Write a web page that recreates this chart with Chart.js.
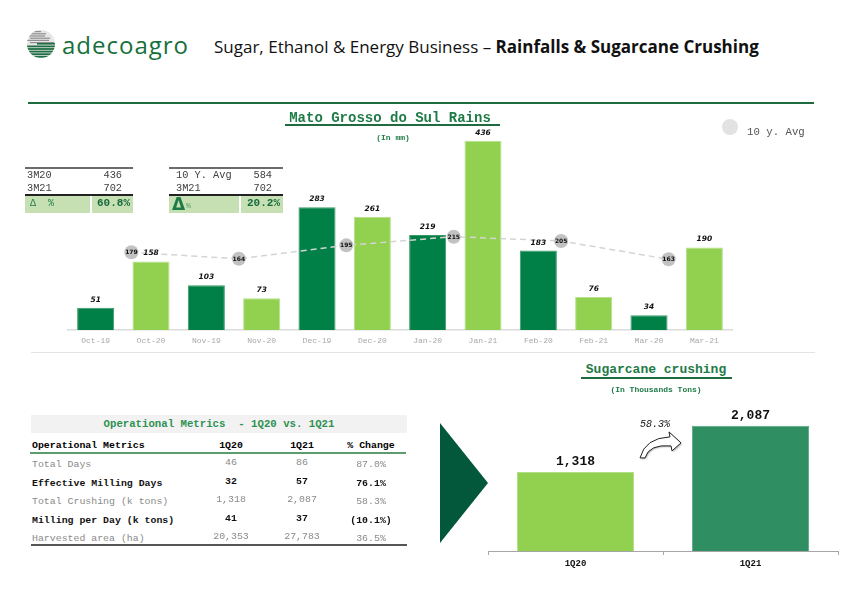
<!DOCTYPE html>
<html>
<head>
<meta charset="utf-8">
<script src="https://cdn.jsdelivr.net/npm/chart.js@4.4.1/dist/chart.umd.min.js"></script>
<style>
body { margin: 0; width: 842px; height: 595px; position: relative; background: #fff; overflow: hidden; font-family: "Liberation Mono", monospace; }
.t { position: absolute; white-space: pre; }
.hl { position: absolute; }
canvas { position: absolute; }
</style>
</head>
<body>
<svg class="hl" style="left:27px;top:30px" width="28" height="28" id="logo"></svg>
<div class="t" style="left:62px;top:30px;font-family:'Open Sans';font-size:24px;line-height:30px;letter-spacing:1px;color:#17703c">adecoagro</div>
<div class="t" style="left:214px;top:36px;font-family:'Open Sans';font-size:17px;line-height:21px;color:#111">Sugar, Ethanol &amp; Energy Business &ndash; <b>Rainfalls &amp; Sugarcane Crushing</b></div>
<div class="hl" style="left:28px;top:102px;width:786px;height:2px;background:#1f6b40"></div>
<div class="hl" style="left:31px;top:352px;width:784px;height:1px;background:#e3e3e3"></div>

<canvas id="rains" width="842" height="260" style="left:0;top:100px"></canvas>
<canvas id="crush" width="412" height="190" style="left:430px;top:390px"></canvas>

<svg class="hl" style="left:438px;top:420px" width="54" height="126">
  <polygon points="2,3 50,63 2,123" fill="#03573a"/>
</svg>

<script>
// rains chart
var rainMonths = ['Oct-19', 'Oct-20', 'Nov-19', 'Nov-20', 'Dec-19', 'Dec-20', 'Jan-20', 'Jan-21', 'Feb-20', 'Feb-21', 'Mar-20', 'Mar-21'];
var rainValues = [51, 158, 103, 73, 283, 261, 219, 436, 183, 76, 34, 190];
var avgMonths = ['Oct', 'Nov', 'Dec', 'Jan', 'Feb', 'Mar'];
var avgValues = [179, 164, 195, 215, 205, 163];

// small summary tables
var rainTableLabels = ['3M20', '3M21'];
var rainTableValues = [436, 702];
var rainTableDelta = '60.8%';
var avgTableLabels = ['10 Y. Avg', '3M21'];
var avgTableValues = [584, 702];
var avgTableDelta = '20.2%';

// crushing chart
var crushLabels = ['1Q20', '1Q21'];
var crushValues = [1318, 2087];
var crushChange = '58.3%';

// operational metrics
var metricHeader = ['Operational Metrics', '1Q20', '1Q21', '% Change'];
var metricNames = ['Total Days', 'Effective Milling Days', 'Total Crushing (k tons)', 'Milling per Day (k tons)', 'Harvested area (ha)'];
var metric1Q20 = ['46', '32', '1,318', '41', '20,353'];
var metric1Q21 = ['86', '57', '2,087', '37', '27,783'];
var metricChange = ['87.0%', '76.1%', '58.3%', '(10.1%)', '36.5%'];
var metricBold = [false, true, false, true, false];

var DARK = '#007f46', LIGHT = '#92d050', DARK2 = '#2f8f63', GREEN_TXT = '#1e7b47';

function put(text, x, y, css, align) {
    var d = document.createElement('div');
    d.className = 't';
    d.textContent = text;
    var size = css.size || 10;
    d.style.fontSize = size + 'px';
    d.style.lineHeight = Math.round(size * 1.4) + 'px';
    d.style.top = (y - size * 0.7) + 'px';
    if (css.bold) d.style.fontWeight = 'bold';
    if (css.italic) d.style.fontStyle = 'italic';
    d.style.color = css.color || '#000';
    if (css.family) d.style.fontFamily = css.family;
    if (align == 'right') {
        d.style.right = (842 - x) + 'px';
    } else if (align == 'center') {
        d.style.left = x + 'px';
        d.style.transform = 'translateX(-50%)';
    } else {
        d.style.left = x + 'px';
    }
    document.body.appendChild(d);
    return d;
}

function box(x, y, w, h, color) {
    var d = document.createElement('div');
    d.className = 'hl';
    d.style.left = x + 'px';
    d.style.top = y + 'px';
    d.style.width = w + 'px';
    d.style.height = h + 'px';
    d.style.background = color;
    document.body.appendChild(d);
}

// logo
(function() {
    var svg = document.getElementById('logo');
    var s = '<defs><clipPath id="cp"><circle cx="14" cy="14" r="14"/></clipPath></defs><g clip-path="url(#cp)">';
    s += '<rect x="0" y="0" width="28" height="28" fill="#e6e6e6"/>';
    for (var i = 0; i < 6; i++) {
        s += '<rect x="' + (i % 2 ? 3 : 0) + '" y="' + (1 + i * 2.2) + '" width="' + (14 + i * 2) + '" height="1.2" fill="#8f8f8f"/>';
    }
    s += '<rect x="10" y="13" width="18" height="1.6" fill="#1f6e43"/>';
    for (var j = 0; j < 5; j++) {
        s += '<rect x="0" y="' + (15.5 + j * 2.6) + '" width="28" height="1.8" fill="#1f6e43"/>';
    }
    s += '</g>';
    svg.innerHTML = s;
})();

// rains title
put('Mato Grosso do Sul Rains', 390, 118, {size: 14, bold: true, color: GREEN_TXT}, 'center');
box(285, 124, 215, 1.5, '#1f6b40');
put('(In mm)', 393, 138, {size: 8, bold: true, color: GREEN_TXT}, 'center');

// legend
var leg = document.createElement('div');
leg.className = 'hl';
leg.style.cssText = 'left:722px;top:119px;width:16px;height:16px;border-radius:8px;background:#e2e2e2';
document.body.appendChild(leg);
put('10 y. Avg', 747, 132, {size: 10.7, color: '#555'}, 'left');

// small tables
function smallTable(x0, x1, xdiv, labels, values, delta, bigDelta) {
    box(x0, 167, x1 - x0, 2, '#6b6b6b');
    for (var i = 0; i < labels.length; i++) {
        put(labels[i], x0 + (bigDelta ? 7 : 2), 175 + i * 13.5, {size: 10.3, color: '#404040'}, 'left');
        put(String(values[i]), x1 - 11, 175 + i * 13.5, {size: 10.3, color: '#404040'}, 'right');
    }
    box(x0, 194, x1 - x0, 1.5, '#222');
    box(x0, 196, xdiv - x0 - 1, 17, '#c6e0b4');
    box(xdiv + 1, 196, x1 - xdiv - 1, 17, '#c6e0b4');
    if (bigDelta) {
        put('Δ', x0 + 3, 203.5, {size: 17, bold: true, color: GREEN_TXT, family: 'DejaVu Sans'}, 'left');
        put('%', x0 + 17, 206, {size: 8, color: '#5aa06a'}, 'left');
    } else {
        put('Δ  %', x0 + 5, 204, {size: 10, color: GREEN_TXT}, 'left');
    }
    put(delta, x1 - 3, 204, {size: 11, bold: true, color: '#176b3c'}, 'right');
}
smallTable(25, 133, 91, rainTableLabels, rainTableValues, rainTableDelta, false);
smallTable(169, 283, 240, avgTableLabels, avgTableValues, avgTableDelta, true);

// operational metrics table
box(31, 415, 376, 18, '#f2f2f2');
put('Operational Metrics  - 1Q20 vs. 1Q21', 219, 424, {size: 10.7, bold: true, color: '#2e9152'}, 'center');
var colX = [231, 302, 371];
put(metricHeader[0], 32, 446, {size: 9.9, bold: true}, 'left');
for (var c = 1; c < 4; c++) {
    put(metricHeader[c], colX[c - 1], 446, {size: 9.9, bold: true}, 'center');
}
box(30, 452, 376, 2, '#5e9c6d');
var rowY = [465, 484, 502, 521, 539];
for (var r = 0; r < metricNames.length; r++) {
    var st = metricBold[r] ? {size: 9.9, bold: true, color: '#111'} : {size: 9.9, color: '#8a8a8a'};
    put(metricNames[r], 32, rowY[r], st, 'left');
    put(metric1Q20[r], colX[0], rowY[r] - 2, st, 'center');
    put(metric1Q21[r], colX[1], rowY[r] - 2, st, 'center');
    put(metricChange[r], colX[2], rowY[r], st, 'center');
}
box(31, 544, 376, 2, '#555');

// crushing titles
put('Sugarcane crushing', 656, 370, {size: 13, bold: true, color: GREEN_TXT}, 'center');
box(581, 377, 151, 1.5, '#1f6b40');
put('(In Thousands Tons)', 656, 390, {size: 8, bold: true, color: GREEN_TXT}, 'center');

var rainLabelsPlugin = {
    id: 'rainLabels',
    afterDatasetsDraw: function(chart) {
        var ctx = chart.ctx;
        ctx.save();
        ctx.textAlign = 'center';
        ctx.textBaseline = 'middle';
        chart.data.datasets.forEach(function(ds, di) {
            var meta = chart.getDatasetMeta(di);
            meta.data.forEach(function(el, i) {
                if (ds.type == 'line') {
                    ctx.font = 'bold 6px "DejaVu Sans"';
                    ctx.fillStyle = '#111';
                    ctx.fillText(String(avgValues[i]), el.x, el.y + 0.5);
                } else {
                    ctx.font = 'italic bold 7.5px "DejaVu Sans"';
                    ctx.fillStyle = '#111';
                    ctx.fillText(String(rainValues[i]), el.x, el.y - 8);
                }
            });
        });
        ctx.restore();
    }
};

new Chart(document.getElementById('rains'), {
    type: 'bar',
    data: {
        labels: rainMonths,
        datasets: [{
            type: 'line',
            label: '10 y. Avg',
            data: avgValues.map(function(v, i) { return {x: i, y: v}; }),
            xAxisID: 'x2',
            borderColor: '#d4d4d4',
            borderDash: [6, 4],
            borderWidth: 1.5,
            pointRadius: 7,
            pointBackgroundColor: '#c2c2c2',
            pointBorderWidth: 0,
            tension: 0,
            order: 0
        }, {
            label: 'Rains',
            data: rainValues,
            grouped: false,
            backgroundColor: rainValues.map(function(v, i) { return i % 2 ? LIGHT : DARK; }),
            borderColor: rainValues.map(function(v, i) { return i % 2 ? '#b5e08c' : '#3c9a68'; }),
            borderWidth: 1,
            barPercentage: 0.67,
            categoryPercentage: 1,
            order: 1
        }]
    },
    options: {
        responsive: false,
        animation: false,
        layout: {padding: {left: 68, right: 110, top: 13, bottom: 10}},
        plugins: {legend: {display: false}, tooltip: {enabled: false}},
        scales: {
            x: {
                grid: {display: false, drawTicks: false},
                border: {color: '#dcdcdc', width: 1.5},
                ticks: {color: '#a8a8a8', font: {family: 'Liberation Mono', size: 8}, padding: 6, maxRotation: 0, autoSkip: false},
                afterFit: function(s) { s.height = 20; }
            },
            x2: {type: 'linear', display: false, offset: false, min: -0.59, max: 5.59},
            y: {display: false, min: 0, max: 500}
        }
    },
    plugins: [rainLabelsPlugin]
});

var crushPlugin = {
    id: 'crushLabels',
    afterDatasetsDraw: function(chart) {
        var ctx = chart.ctx;
        var meta = chart.getDatasetMeta(0);
        ctx.save();
        ctx.textAlign = 'center';
        ctx.textBaseline = 'middle';
        ctx.font = 'bold 13px "Liberation Mono"';
        ctx.fillStyle = '#111';
        meta.data.forEach(function(el, i) {
            ctx.fillText(crushValues[i].toLocaleString('en-US'), el.x, el.y - 10);
        });
        // curved growth arrow between the bars
        var xs = chart.scales.x;
        var mid = (xs.getPixelForValue(0) + xs.getPixelForValue(1)) / 2;
        var top0 = meta.data[0].y, top1 = meta.data[1].y;
        var ox = mid - 20, oy = top0 - 14;
        ctx.translate(ox, oy);
        ctx.beginPath();
        ctx.moveTo(-3, 0);
        ctx.quadraticCurveTo(2, -20, 27, -21);
        ctx.lineTo(26, -26);
        ctx.lineTo(38, -15);
        ctx.lineTo(29, -7);
        ctx.lineTo(28, -12);
        ctx.quadraticCurveTo(6, -14, 2, 0);
        ctx.closePath();
        ctx.shadowColor = 'rgba(0,0,0,0.35)';
        ctx.shadowBlur = 2;
        ctx.shadowOffsetX = 1;
        ctx.shadowOffsetY = 1;
        ctx.fillStyle = '#fff';
        ctx.fill();
        ctx.shadowColor = 'transparent';
        ctx.strokeStyle = '#222';
        ctx.lineWidth = 1;
        ctx.stroke();
        ctx.translate(-ox, -oy);
        ctx.fillStyle = '#111';
        ctx.font = 'italic 10px "Liberation Mono"';
        ctx.fillText(crushChange, mid - 8, top1 - 1);
        ctx.restore();
    }
};

new Chart(document.getElementById('crush'), {
    type: 'bar',
    data: {
        labels: crushLabels,
        datasets: [{
            data: crushValues,
            backgroundColor: [LIGHT, DARK2],
            borderColor: ['#b2df85', '#5aa784'],
            borderWidth: 1,
            barPercentage: 0.67,
            categoryPercentage: 1
        }]
    },
    options: {
        responsive: false,
        animation: false,
        layout: {padding: {left: 58, right: 4, top: 11, bottom: 9}},
        plugins: {legend: {display: false}, tooltip: {enabled: false}},
        scales: {
            x: {
                grid: {drawOnChartArea: false, drawTicks: true, tickLength: 4, color: '#a6a6a6'},
                border: {color: '#a6a6a6', width: 1},
                ticks: {color: '#111', font: {family: 'Liberation Mono', size: 9, weight: 'bold'}, padding: 3, maxRotation: 0},
                afterFit: function(s) { s.height = 20; }
            },
            y: {display: false, min: 0, max: 2500}
        }
    },
    plugins: [crushPlugin]
});
</script>
</body>
</html>
